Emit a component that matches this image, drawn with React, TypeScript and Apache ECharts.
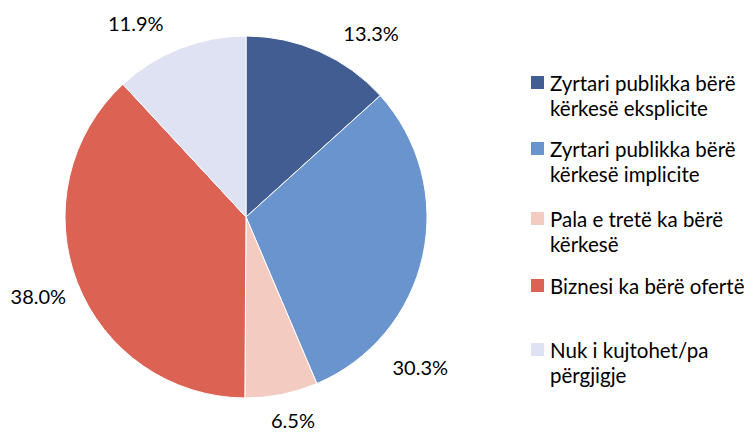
import React, { useEffect, useRef } from "react";
import * as echarts from "echarts";

const categories = [
  "Zyrtari publik ka bërë kërkesë eksplicite",
  "Zyrtari publik ka bërë kërkesë implicite",
  "Pala e tretë ka bërë kërkesë",
  "Biznesi ka bërë ofertë",
  "Nuk i kujtohet/pa përgjigje",
];
const legendLabels = [
  "Zyrtari publikka bërë\nkërkesë eksplicite",
  "Zyrtari publikka bërë\nkërkesë implicite",
  "Pala e tretë ka bërë\nkërkesë",
  "Biznesi ka bërë ofertë\n ",
  "Nuk i kujtohet/pa\npërgjigje",
];
const values = [13.3, 30.3, 6.5, 38.0, 11.9];
const colors = ["#415D91", "#6A94CE", "#F4CBC0", "#DC6353", "#DFE2F3"];

const FONT = "Lato, 'Open Sans', sans-serif";

// label nudges relative to ECharts' default outside position (styling only)
const labelDx = [14, -47, -18, 5, -7];
const labelDy = [-8, 108, 14, 9, -14];

export default function App() {
  const ref = useRef<HTMLDivElement>(null);
  useEffect(() => {
    if (!ref.current) return;
    const chart = echarts.init(ref.current, undefined, { renderer: "svg" });
    const iconTops = [77, 143, 213, 280, 344];
    const legends = categories.map((name, i) => ({
      data: [name],
      left: 529,
      top: iconTops[i] - 5,
      orient: "vertical",
      padding: 0,
      itemWidth: 15,
      itemHeight: 15,
      icon: "rect",
      selectedMode: false,
      formatter: () =>
        legendLabels[i]
          .split("\n")
          .map((l) => "{a|" + l + "}")
          .join("\n"),
      textStyle: {
        fontFamily: FONT,
        fontSize: 20.5,
        color: "#000",
        padding: [25, 0, 0, 0],
        rich: {
          a: { fontFamily: FONT, fontSize: 20.5, lineHeight: 25, color: "#000" },
        },
      },
    }));
    chart.setOption({
      animation: false,
      backgroundColor: "#fff",
      color: colors,
      legend: legends,
      series: [
        {
          type: "pie",
          center: [246, 217],
          radius: 181,
          startAngle: 90,
          clockwise: true,
          avoidLabelOverlap: false,
          itemStyle: { borderColor: "#fff", borderWidth: 1 },
          label: {
            show: true,
            position: "outside",
            formatter: (p: any) => p.value.toFixed(1) + "%",
            fontFamily: FONT,
            fontSize: 20,
            color: "#000",
          },
          labelLine: { show: false, length: 12, length2: 0 },
          labelLayout: (p: any) => {
            const i = p.dataIndex;
            const r = p.labelRect;
            return {
              x: r.x + r.width / 2 + labelDx[i],
              y: r.y + r.height / 2 + labelDy[i],
              align: "center",
              verticalAlign: "middle",
            };
          },
          emphasis: { disabled: true },
          data: categories.map((name, i) => ({ name, value: values[i] })),
        },
      ],
    });
    return () => chart.dispose();
  }, []);
  return (
    <div
      ref={ref}
      style={{ position: "fixed", left: 0, top: 0, width: 744, height: 432 }}
    />
  );
}
